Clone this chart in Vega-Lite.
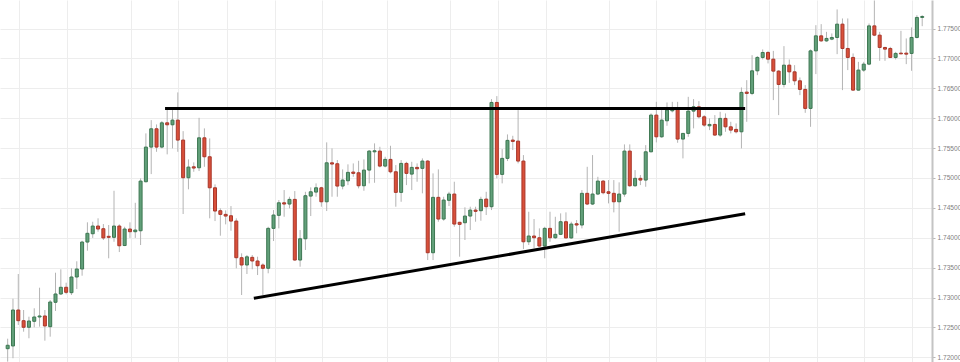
{
  "$schema": "https://vega.github.io/schema/vega-lite/v6.json",
  "width": 932,
  "height": 362,
  "autosize": {"type": "none"},
  "padding": {"left": 0, "top": 0, "right": 28, "bottom": 0},
  "background": "#ffffff",
  "config": {
    "view": {"stroke": null},
    "axisX": {
      "title": null, "labels": false, "ticks": false, "domain": false,
      "grid": true, "gridColor": "#ededed", "gridWidth": 1
    },
    "axisY": {
      "title": null, "grid": true, "gridColor": "#ededed", "gridWidth": 1,
      "domain": true, "domainColor": "#c4c4c4", "domainWidth": 2,
      "ticks": true, "tickColor": "#b8b8b8", "tickSize": 3,
      "labelFont": "Liberation Sans", "labelFontSize": 6.6, "labelColor": "#808080",
      "labelPadding": 2, "labelOverlap": false, "labelBound": false
    }
  },
  "datasets": {
    "candles": [
      {"i":0,"o":1.72144,"h":1.72311,"l":1.71927,"c":1.72201},
      {"i":1,"o":1.72189,"h":1.72980,"l":1.71984,"c":1.72791},
      {"i":2,"o":1.72791,"h":1.73393,"l":1.72540,"c":1.72612},
      {"i":3,"o":1.72612,"h":1.72791,"l":1.72428,"c":1.72502},
      {"i":4,"o":1.72502,"h":1.72679,"l":1.72318,"c":1.72607},
      {"i":5,"o":1.72602,"h":1.72820,"l":1.72502,"c":1.72674},
      {"i":6,"o":1.72674,"h":1.73164,"l":1.72512,"c":1.72691},
      {"i":7,"o":1.72691,"h":1.72791,"l":1.72278,"c":1.72524},
      {"i":8,"o":1.72512,"h":1.72958,"l":1.72345,"c":1.72925},
      {"i":9,"o":1.72920,"h":1.73415,"l":1.72775,"c":1.73059},
      {"i":10,"o":1.73059,"h":1.73472,"l":1.73042,"c":1.73171},
      {"i":11,"o":1.73171,"h":1.73248,"l":1.73054,"c":1.73087},
      {"i":12,"o":1.73081,"h":1.73489,"l":1.73042,"c":1.73343},
      {"i":13,"o":1.73343,"h":1.73606,"l":1.73142,"c":1.73477},
      {"i":14,"o":1.73477,"h":1.73950,"l":1.73365,"c":1.73928},
      {"i":15,"o":1.73928,"h":1.74258,"l":1.73783,"c":1.74074},
      {"i":16,"o":1.74067,"h":1.74268,"l":1.73997,"c":1.74196},
      {"i":17,"o":1.74196,"h":1.74325,"l":1.74101,"c":1.74146},
      {"i":18,"o":1.74151,"h":1.74229,"l":1.73962,"c":1.73997},
      {"i":19,"o":1.74024,"h":1.74213,"l":1.73656,"c":1.74007},
      {"i":20,"o":1.74007,"h":1.74786,"l":1.73933,"c":1.74196},
      {"i":21,"o":1.74196,"h":1.74224,"l":1.73761,"c":1.73866},
      {"i":22,"o":1.73870,"h":1.74184,"l":1.73860,"c":1.74146},
      {"i":23,"o":1.74146,"h":1.74258,"l":1.73997,"c":1.74101},
      {"i":24,"o":1.74101,"h":1.74585,"l":1.73997,"c":1.74129},
      {"i":25,"o":1.74117,"h":1.74994,"l":1.73878,"c":1.74948},
      {"i":26,"o":1.74937,"h":1.75746,"l":1.74927,"c":1.75517},
      {"i":27,"o":1.75517,"h":1.75968,"l":1.75065,"c":1.75823},
      {"i":28,"o":1.75823,"h":1.75896,"l":1.75438,"c":1.75517},
      {"i":29,"o":1.75517,"h":1.75952,"l":1.75495,"c":1.75923},
      {"i":30,"o":1.75923,"h":1.76152,"l":1.75395,"c":1.75890},
      {"i":31,"o":1.75890,"h":1.76152,"l":1.75495,"c":1.75968},
      {"i":32,"o":1.75968,"h":1.76432,"l":1.75438,"c":1.75634},
      {"i":33,"o":1.75634,"h":1.75784,"l":1.74397,"c":1.75004},
      {"i":34,"o":1.75004,"h":1.75311,"l":1.74810,"c":1.75182},
      {"i":35,"o":1.75187,"h":1.75261,"l":1.75104,"c":1.75166},
      {"i":36,"o":1.75171,"h":1.76007,"l":1.75116,"c":1.75672},
      {"i":37,"o":1.75672,"h":1.75830,"l":1.75187,"c":1.75355},
      {"i":38,"o":1.75355,"h":1.75662,"l":1.74325,"c":1.74836},
      {"i":39,"o":1.74836,"h":1.74893,"l":1.74279,"c":1.74447},
      {"i":40,"o":1.74452,"h":1.74492,"l":1.74034,"c":1.74391},
      {"i":41,"o":1.74391,"h":1.74458,"l":1.74224,"c":1.74363},
      {"i":42,"o":1.74368,"h":1.74530,"l":1.74117,"c":1.74279},
      {"i":43,"o":1.74279,"h":1.74325,"l":1.73489,"c":1.73666},
      {"i":44,"o":1.73666,"h":1.73739,"l":1.73042,"c":1.73544},
      {"i":45,"o":1.73544,"h":1.73711,"l":1.73393,"c":1.73681},
      {"i":46,"o":1.73672,"h":1.73711,"l":1.73472,"c":1.73611},
      {"i":47,"o":1.73611,"h":1.73683,"l":1.73376,"c":1.73532},
      {"i":48,"o":1.73544,"h":1.73572,"l":1.73042,"c":1.73489},
      {"i":49,"o":1.73489,"h":1.74184,"l":1.73405,"c":1.74157},
      {"i":50,"o":1.74157,"h":1.74463,"l":1.73945,"c":1.74380},
      {"i":51,"o":1.74375,"h":1.74631,"l":1.74157,"c":1.74585},
      {"i":52,"o":1.74585,"h":1.74798,"l":1.74351,"c":1.74564},
      {"i":53,"o":1.74564,"h":1.74686,"l":1.74492,"c":1.74642},
      {"i":54,"o":1.74642,"h":1.74781,"l":1.73616,"c":1.73627},
      {"i":55,"o":1.73627,"h":1.74129,"l":1.73515,"c":1.73983},
      {"i":56,"o":1.73983,"h":1.74769,"l":1.73795,"c":1.74703},
      {"i":57,"o":1.74697,"h":1.74843,"l":1.74363,"c":1.74769},
      {"i":58,"o":1.74764,"h":1.74910,"l":1.74686,"c":1.74836},
      {"i":59,"o":1.74836,"h":1.74853,"l":1.74519,"c":1.74602},
      {"i":60,"o":1.74602,"h":1.75596,"l":1.74447,"c":1.75254},
      {"i":61,"o":1.75254,"h":1.75495,"l":1.74686,"c":1.75233},
      {"i":62,"o":1.75238,"h":1.75300,"l":1.74686,"c":1.74865},
      {"i":63,"o":1.74865,"h":1.75144,"l":1.74810,"c":1.74965},
      {"i":64,"o":1.74953,"h":1.75228,"l":1.74881,"c":1.75094},
      {"i":65,"o":1.75099,"h":1.75244,"l":1.75020,"c":1.75077},
      {"i":66,"o":1.75087,"h":1.75288,"l":1.74826,"c":1.74870},
      {"i":67,"o":1.74870,"h":1.75311,"l":1.74786,"c":1.75132},
      {"i":68,"o":1.75132,"h":1.75467,"l":1.74910,"c":1.75450},
      {"i":69,"o":1.75438,"h":1.75579,"l":1.74920,"c":1.75455},
      {"i":70,"o":1.75450,"h":1.75522,"l":1.75177,"c":1.75199},
      {"i":71,"o":1.75199,"h":1.75355,"l":1.75177,"c":1.75311},
      {"i":72,"o":1.75311,"h":1.75539,"l":1.75077,"c":1.75104},
      {"i":73,"o":1.75104,"h":1.75216,"l":1.74519,"c":1.74759},
      {"i":74,"o":1.74759,"h":1.75300,"l":1.74602,"c":1.75244},
      {"i":75,"o":1.75244,"h":1.75271,"l":1.74881,"c":1.75077},
      {"i":76,"o":1.75065,"h":1.75271,"l":1.74798,"c":1.75177},
      {"i":77,"o":1.75177,"h":1.75244,"l":1.74937,"c":1.75154},
      {"i":78,"o":1.75161,"h":1.75328,"l":1.74743,"c":1.75283},
      {"i":79,"o":1.75283,"h":1.75300,"l":1.73627,"c":1.73749},
      {"i":80,"o":1.73749,"h":1.75077,"l":1.73627,"c":1.74676},
      {"i":81,"o":1.74676,"h":1.75144,"l":1.74268,"c":1.74313},
      {"i":82,"o":1.74313,"h":1.74686,"l":1.74285,"c":1.74631},
      {"i":83,"o":1.74626,"h":1.74769,"l":1.74530,"c":1.74731},
      {"i":84,"o":1.74731,"h":1.74937,"l":1.74184,"c":1.74229},
      {"i":85,"o":1.74258,"h":1.74268,"l":1.73683,"c":1.74224},
      {"i":86,"o":1.74251,"h":1.74509,"l":1.73962,"c":1.74363},
      {"i":87,"o":1.74363,"h":1.74519,"l":1.74129,"c":1.74463},
      {"i":88,"o":1.74463,"h":1.74519,"l":1.74268,"c":1.74442},
      {"i":89,"o":1.74452,"h":1.74686,"l":1.74285,"c":1.74642},
      {"i":90,"o":1.74647,"h":1.74769,"l":1.74380,"c":1.74519},
      {"i":91,"o":1.74519,"h":1.76320,"l":1.74463,"c":1.76264},
      {"i":92,"o":1.76264,"h":1.76370,"l":1.74994,"c":1.75060},
      {"i":93,"o":1.75060,"h":1.75483,"l":1.74910,"c":1.75328},
      {"i":94,"o":1.75328,"h":1.75729,"l":1.75283,"c":1.75629},
      {"i":95,"o":1.75634,"h":1.75706,"l":1.75467,"c":1.75612},
      {"i":96,"o":1.75617,"h":1.76136,"l":1.75244,"c":1.75283},
      {"i":97,"o":1.75283,"h":1.75383,"l":1.73811,"c":1.73933},
      {"i":98,"o":1.73933,"h":1.74435,"l":1.73878,"c":1.74029},
      {"i":99,"o":1.74029,"h":1.74313,"l":1.73823,"c":1.74000},
      {"i":100,"o":1.74000,"h":1.74157,"l":1.73850,"c":1.73861},
      {"i":101,"o":1.73861,"h":1.74184,"l":1.73656,"c":1.74157},
      {"i":102,"o":1.74157,"h":1.74435,"l":1.73933,"c":1.74000},
      {"i":103,"o":1.74000,"h":1.74351,"l":1.73978,"c":1.74057},
      {"i":104,"o":1.74057,"h":1.74408,"l":1.74045,"c":1.74268},
      {"i":105,"o":1.74268,"h":1.74425,"l":1.73990,"c":1.73997},
      {"i":106,"o":1.73997,"h":1.74268,"l":1.73980,"c":1.74229},
      {"i":107,"o":1.74234,"h":1.74296,"l":1.74074,"c":1.74213},
      {"i":108,"o":1.74213,"h":1.74798,"l":1.74157,"c":1.74743},
      {"i":109,"o":1.74743,"h":1.75187,"l":1.74547,"c":1.74564},
      {"i":110,"o":1.74564,"h":1.75383,"l":1.74547,"c":1.74731},
      {"i":111,"o":1.74731,"h":1.75020,"l":1.74714,"c":1.74948},
      {"i":112,"o":1.74948,"h":1.74965,"l":1.74726,"c":1.74753},
      {"i":113,"o":1.74769,"h":1.74965,"l":1.74575,"c":1.74743},
      {"i":114,"o":1.74743,"h":1.74965,"l":1.74425,"c":1.74602},
      {"i":115,"o":1.74602,"h":1.74927,"l":1.74101,"c":1.74731},
      {"i":116,"o":1.74731,"h":1.75562,"l":1.74686,"c":1.75450},
      {"i":117,"o":1.75450,"h":1.75562,"l":1.74853,"c":1.74870},
      {"i":118,"o":1.74870,"h":1.75132,"l":1.74853,"c":1.74994},
      {"i":119,"o":1.74994,"h":1.75049,"l":1.74881,"c":1.74965},
      {"i":120,"o":1.74965,"h":1.75550,"l":1.74853,"c":1.75438},
      {"i":121,"o":1.75438,"h":1.76080,"l":1.75430,"c":1.76052},
      {"i":122,"o":1.76052,"h":1.76274,"l":1.75596,"c":1.75689},
      {"i":123,"o":1.75689,"h":1.76164,"l":1.75672,"c":1.75968},
      {"i":124,"o":1.75957,"h":1.76264,"l":1.75873,"c":1.76136},
      {"i":125,"o":1.76124,"h":1.76274,"l":1.76097,"c":1.76152},
      {"i":126,"o":1.76152,"h":1.76274,"l":1.75589,"c":1.75651},
      {"i":127,"o":1.75651,"h":1.75750,"l":1.75328,"c":1.75746},
      {"i":128,"o":1.75746,"h":1.76358,"l":1.75689,"c":1.76119},
      {"i":129,"o":1.76119,"h":1.76320,"l":1.75830,"c":1.76191},
      {"i":130,"o":1.76191,"h":1.76286,"l":1.75997,"c":1.76024},
      {"i":131,"o":1.76024,"h":1.76052,"l":1.75856,"c":1.75885},
      {"i":132,"o":1.75873,"h":1.75997,"l":1.75801,"c":1.75896},
      {"i":133,"o":1.75896,"h":1.76052,"l":1.75706,"c":1.75718},
      {"i":134,"o":1.75718,"h":1.76107,"l":1.75689,"c":1.75997},
      {"i":135,"o":1.75997,"h":1.76080,"l":1.75773,"c":1.75856},
      {"i":136,"o":1.75856,"h":1.75940,"l":1.75746,"c":1.75801},
      {"i":137,"o":1.75813,"h":1.75913,"l":1.75746,"c":1.75773},
      {"i":138,"o":1.75773,"h":1.76515,"l":1.75495,"c":1.76432},
      {"i":139,"o":1.76437,"h":1.76637,"l":1.75940,"c":1.76415},
      {"i":140,"o":1.76415,"h":1.77055,"l":1.76386,"c":1.76793},
      {"i":141,"o":1.76793,"h":1.77039,"l":1.76721,"c":1.77017},
      {"i":142,"o":1.77017,"h":1.77151,"l":1.76983,"c":1.77100},
      {"i":143,"o":1.77100,"h":1.77127,"l":1.76917,"c":1.76988},
      {"i":144,"o":1.76988,"h":1.77127,"l":1.76303,"c":1.76788},
      {"i":145,"o":1.76788,"h":1.76805,"l":1.76052,"c":1.76565},
      {"i":146,"o":1.76565,"h":1.77206,"l":1.76515,"c":1.76888},
      {"i":147,"o":1.76888,"h":1.76983,"l":1.76592,"c":1.76776},
      {"i":148,"o":1.76776,"h":1.76888,"l":1.76554,"c":1.76626},
      {"i":149,"o":1.76626,"h":1.76682,"l":1.76386,"c":1.76482},
      {"i":150,"o":1.76482,"h":1.76554,"l":1.76090,"c":1.76164},
      {"i":151,"o":1.76164,"h":1.77151,"l":1.75856,"c":1.77127},
      {"i":152,"o":1.77127,"h":1.77557,"l":1.76738,"c":1.77378},
      {"i":153,"o":1.77378,"h":1.77574,"l":1.77278,"c":1.77294},
      {"i":154,"o":1.77294,"h":1.77445,"l":1.77278,"c":1.77335},
      {"i":155,"o":1.77323,"h":1.77418,"l":1.77306,"c":1.77351},
      {"i":156,"o":1.77351,"h":1.77820,"l":1.77072,"c":1.77574},
      {"i":157,"o":1.77574,"h":1.77669,"l":1.76470,"c":1.77167},
      {"i":158,"o":1.77167,"h":1.77669,"l":1.76805,"c":1.77017},
      {"i":159,"o":1.77017,"h":1.77084,"l":1.76460,"c":1.76470},
      {"i":160,"o":1.76470,"h":1.76943,"l":1.76460,"c":1.76805},
      {"i":161,"o":1.76805,"h":1.76943,"l":1.76776,"c":1.76905},
      {"i":162,"o":1.76905,"h":1.77585,"l":1.76888,"c":1.77545},
      {"i":163,"o":1.77545,"h":1.77970,"l":1.77373,"c":1.77390},
      {"i":164,"o":1.77390,"h":1.77445,"l":1.76960,"c":1.77184},
      {"i":165,"o":1.77184,"h":1.77194,"l":1.76960,"c":1.77156},
      {"i":166,"o":1.77167,"h":1.77194,"l":1.77010,"c":1.77017},
      {"i":167,"o":1.77017,"h":1.77110,"l":1.76983,"c":1.77084},
      {"i":168,"o":1.77089,"h":1.77462,"l":1.77072,"c":1.77077},
      {"i":169,"o":1.77089,"h":1.77335,"l":1.76905,"c":1.77072},
      {"i":170,"o":1.77084,"h":1.77519,"l":1.76793,"c":1.77351},
      {"i":171,"o":1.77351,"h":1.77724,"l":1.77335,"c":1.77686},
      {"i":172,"o":1.77686,"h":1.77724,"l":1.77540,"c":1.77702}
    ],
    "trendlines": [
      {"name": "resistance", "x1": 29.6, "y1": 1.76164, "x2": 138.7, "y2": 1.76164},
      {"name": "support", "x1": 46.3, "y1": 1.72987, "x2": 138.7, "y2": 1.74400}
    ]
  },
  "encoding": {
    "x": {
      "type": "quantitative",
      "scale": {"domain": [-0.5, 172.9], "nice": false, "zero": false},
      "axis": {
        "orient": "bottom",
        "values": [2.2, 11.2, 23.2, 32.1, 41.2, 50.2, 59.2, 71.3, 83.2, 92.2, 101.2, 113, 122, 131.2, 143.1, 152.2, 161, 170.1]
      }
    },
    "y": {
      "type": "quantitative",
      "scale": {"domain": [1.71921, 1.77978], "nice": false, "zero": false},
      "axis": {
        "orient": "right", "format": ".5f",
        "values": [1.72, 1.725, 1.73, 1.735, 1.74, 1.745, 1.75, 1.755, 1.76, 1.765, 1.77, 1.775]
      }
    }
  },
  "layer": [
    {
      "data": {"name": "candles"},
      "mark": {"type": "rule", "color": "#b4b4b4", "strokeWidth": 1},
      "encoding": {
        "x": {"field": "i"},
        "y": {"field": "l"},
        "y2": {"field": "h"}
      }
    },
    {
      "data": {"name": "candles"},
      "mark": {"type": "bar", "width": 3, "strokeWidth": 1},
      "encoding": {
        "x": {"field": "i"},
        "y": {"field": "o"},
        "y2": {"field": "c"},
        "fill": {
          "condition": {"test": "datum.c < datum.o", "value": "#d9503a"},
          "value": "#62a07a"
        },
        "stroke": {
          "condition": {"test": "datum.c < datum.o", "value": "#a8362a"},
          "value": "#3d7752"
        }
      }
    },
    {
      "data": {"name": "trendlines"},
      "mark": {"type": "rule", "color": "#000000", "strokeWidth": 3},
      "encoding": {
        "x": {"field": "x1"},
        "x2": {"field": "x2"},
        "y": {"field": "y1"},
        "y2": {"field": "y2"}
      }
    }
  ]
}
